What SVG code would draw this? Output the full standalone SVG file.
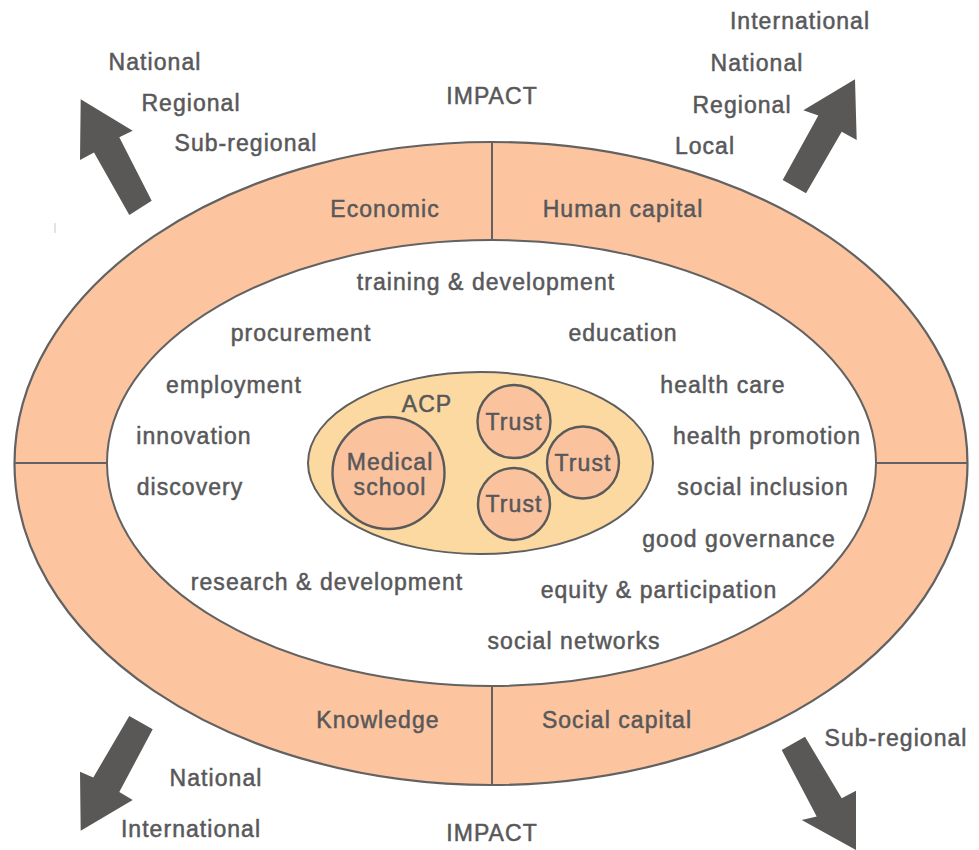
<svg xmlns="http://www.w3.org/2000/svg" width="979" height="850" viewBox="0 0 979 850">
  <style>
    text { font-family: "Liberation Sans", Arial, Helvetica, sans-serif; font-size: 23px; fill: #58585a; text-anchor: middle; letter-spacing: 1.05px; stroke: #58585a; stroke-width: 0.5px; }
    .ring { fill: #fdc59f; stroke: #626262; stroke-width: 2.2; }
    .inner { fill: #ffffff; stroke: #626262; stroke-width: 2; }
    .divider { stroke: #626262; stroke-width: 2; fill: none; }
    .acp { fill: #fdd9a2; stroke: #5f5f5f; stroke-width: 2; }
    .member { fill: #fbc29e; stroke: #5a5a5a; stroke-width: 2.4; }
    .arrow { fill: #595856; }
  </style>

  <rect width="979" height="850" fill="#ffffff"/>

  <!-- impact ring -->
  <g id="impact-ring">
    <ellipse class="ring" cx="491" cy="463.5" rx="476.5" ry="321.5"/>
    <ellipse class="inner" cx="491.5" cy="463" rx="384.5" ry="223"/>
  </g>

  <!-- quadrant dividers and direction arrows -->
  <g id="connectors">
    <line class="divider" x1="492" y1="142" x2="492" y2="240"/>
    <line class="divider" x1="492" y1="686" x2="492" y2="785"/>
    <line class="divider" x1="14.5" y1="463" x2="107" y2="463"/>
    <line class="divider" x1="876" y1="463" x2="967.5" y2="463"/>
    <polygon class="arrow" points="80.7,99.3 132.7,130.7 119.3,137.3 151.7,200.7 129.3,215 94,152.5 80,160"/>
    <polygon class="arrow" points="855,79.3 856.7,140 841.7,131.7 806,193.3 782.7,180 818.3,115.5 803.3,110.3"/>
    <polygon class="arrow" points="129.3,716 152.7,729.3 119.3,792 132.7,800 80.7,830.7 80,771.7 93.3,777.5"/>
    <polygon class="arrow" points="781.7,750 805,736.7 841.7,798.3 856,790.7 856,850 801.7,820 816.7,816.5"/>
    <line x1="55" y1="223" x2="55" y2="233" stroke="#c8c8c8" stroke-width="1"/>
  </g>

  <!-- reach labels -->
  <g id="reach-top-left">
    <text x="155" y="70">National</text>
    <text x="191" y="111">Regional</text>
    <text x="246" y="151">Sub-regional</text>
  </g>
  <g id="reach-top-right">
    <text x="800" y="29">International</text>
    <text x="757" y="71">National</text>
    <text x="742" y="113">Regional</text>
    <text x="705" y="154">Local</text>
  </g>
  <g id="reach-bottom-left">
    <text x="216" y="786">National</text>
    <text x="191" y="837">International</text>
  </g>
  <g id="reach-bottom-right">
    <text x="896" y="746">Sub-regional</text>
  </g>
  <g id="impact-labels">
    <text x="492" y="104">IMPACT</text>
    <text x="492" y="841">IMPACT</text>
  </g>

  <!-- quadrant names -->
  <g id="economic"><text x="385" y="217">Economic</text></g>
  <g id="human-capital"><text x="623" y="217">Human capital</text></g>
  <g id="knowledge"><text x="378" y="728">Knowledge</text></g>
  <g id="social-capital"><text x="617" y="728">Social capital</text></g>

  <!-- impact areas -->
  <g id="impact-areas">
    <text x="486" y="290">training &amp; development</text>
    <text x="301" y="341">procurement</text>
    <text x="623" y="341">education</text>
    <text x="234" y="393">employment</text>
    <text x="723" y="393">health care</text>
    <text x="194" y="444">innovation</text>
    <text x="767" y="444">health promotion</text>
    <text x="190" y="495">discovery</text>
    <text x="763" y="495">social inclusion</text>
    <text x="739" y="547">good governance</text>
    <text x="327" y="590">research &amp; development</text>
    <text x="659" y="598">equity &amp; participation</text>
    <text x="574" y="649">social networks</text>
  </g>

  <!-- academic care partnership -->
  <g id="acp">
    <ellipse class="acp" cx="480.5" cy="463" rx="172.5" ry="91"/>
    <text x="427" y="412">ACP</text>
  </g>
  <g id="medical-school">
    <circle class="member" cx="388.5" cy="473" r="56"/>
    <text x="390" y="470">Medical</text>
    <text x="390" y="495">school</text>
  </g>
  <g id="trust-1">
    <circle class="member" cx="514" cy="421.5" r="36.5"/>
    <text x="514" y="429.5">Trust</text>
  </g>
  <g id="trust-2">
    <circle class="member" cx="583" cy="462.5" r="36"/>
    <text x="583" y="470.5">Trust</text>
  </g>
  <g id="trust-3">
    <circle class="member" cx="514" cy="504" r="36"/>
    <text x="514" y="512">Trust</text>
  </g>
</svg>
